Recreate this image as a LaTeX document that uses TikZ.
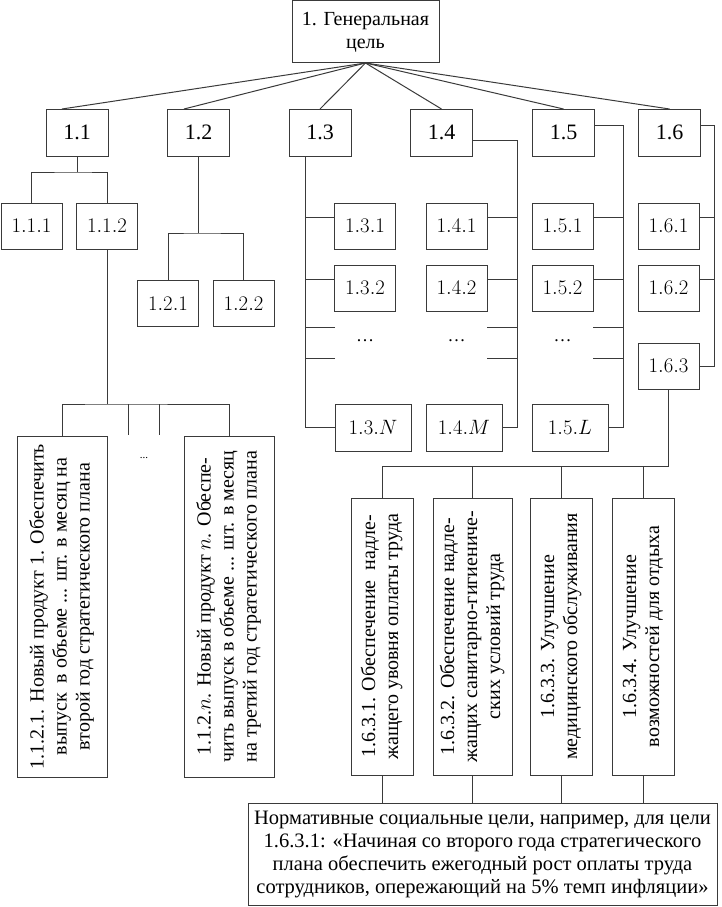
\documentclass[tikz,border=0pt]{standalone}
\usepackage{fontspec}
\setmainfont{Liberation Serif}
\usepackage{graphicx}
\usetikzlibrary{positioning,calc}
\definecolor{ink}{HTML}{3a3a3a}

\begin{document}
\begin{tikzpicture}[x=1pt,y=-1pt,
    edge/.style={draw=ink, line width=1pt},
    goal/.style={draw=ink, line width=1pt, rectangle, inner sep=0pt, outer sep=0pt,
        minimum width=61pt, minimum height=46pt, text=black,
        font=\fontsize{20}{23}\selectfont},
    tall/.style={goal, minimum width=#1, minimum height=277pt}]

    \useasboundingbox (0,0) rectangle (721,907);

    %--------------------------------------------
    % Nodes
    \node[goal, minimum width=147pt, minimum height=62pt, align=center] (g) at (365.5,32) {1. Генеральная\\цель};

    \node[goal, minimum width=62pt, minimum height=47pt, font=\fontsize{22}{24}\selectfont] (g11) at (77,132.5) {1.1};
    \node[goal, minimum width=62pt, minimum height=47pt, font=\fontsize{22}{24}\selectfont] (g12) at (198.5,132.5) {1.2};
    \node[goal, minimum width=62pt, minimum height=47pt, font=\fontsize{22}{24}\selectfont] (g13) at (320,132.5) {1.3};
    \node[goal, minimum width=62pt, minimum height=47pt, font=\fontsize{22}{24}\selectfont] (g14) at (441.5,132.5) {1.4};
    \node[goal, minimum width=62pt, minimum height=47pt, font=\fontsize{22}{24}\selectfont] (g15) at (563.5,132.5) {1.5};
    \node[goal, minimum width=62pt, minimum height=47pt, font=\fontsize{22}{24}\selectfont] (g16) at (669.5,132.5) {1.6};

    \node[goal] (g111) at (31.5,226) {$1.1.1$};
    \node[goal] (g112) at (107,226) {$1.1.2$};

    \node[goal] (g121) at (168,303.5) {$1.2.1$};
    \node[goal] (g122) at (243.5,303.5) {$1.2.2$};

    \node[goal] (g131) at (365,226) {$1.3.1$};
    \node[goal] (g132) at (365,288) {$1.3.2$};
    \node[goal, minimum width=76pt, minimum height=47pt] (g13N) at (373,427.5) {$1.3.N$};

    \node[goal] (g141) at (456.5,226) {$1.4.1$};
    \node[goal] (g142) at (456.5,288) {$1.4.2$};
    \node[goal, minimum width=76pt, minimum height=47pt] (g14M) at (464,427.5) {$1.4.M$};

    \node[goal] (g151) at (562.5,226) {$1.5.1$};
    \node[goal] (g152) at (562.5,288) {$1.5.2$};
    \node[goal, minimum width=76pt, minimum height=47pt] (g15L) at (570,427.5) {$1.5.L$};

    \node[goal] (g161) at (668.5,226) {$1.6.1$};
    \node[goal] (g162) at (668.5,288) {$1.6.2$};
    \node[goal] (g163) at (668.5,366) {$1.6.3$};

    % the dots between the sub-goals
    \node[font=\fontsize{18}{20}\selectfont] (dots13) at (365,341) {\ldots};
    \node[font=\fontsize{18}{20}\selectfont] (dots14) at (456.5,341) {\ldots};
    \node[font=\fontsize{18}{20}\selectfont] (dots15) at (562.5,341) {\ldots};
    \node[font=\fontsize{11}{12}\selectfont] (dots112) at (144,458) {...};

    %--------------------------------------------
    % Products of 1.1.2
    \node[goal, minimum width=90pt, minimum height=341pt] (g1121) at (62,606.5)
        {\rotatebox{90}{\begin{tabular}{@{}c@{}}
        1.1.2.1. Новый продукт 1. Обеспечить\\
        выпуск\ \ в объеме ... шт. в месяц на\\
        второй год стратегического плана
        \end{tabular}}};

    \node[goal, minimum width=90pt, minimum height=341pt] (g112n) at (229,606.5)
        {\rotatebox{90}{\begin{tabular}{@{}c@{}}
        1.1.2.$n$. Новый продукт $n$. Обеспе-\\
        чить выпуск в объеме ... шт. в месяц\\
        на третий год стратегического плана
        \end{tabular}}};

    %--------------------------------------------
    % Sub-goals of 1.6.3
    \node[tall=62pt] (g1631) at (382,636.5)
        {\rotatebox{90}{\begin{tabular}{@{}c@{}}
        1.6.3.1. Обеспечение\ \ надле-\\
        жащего увовня оплаты труда
        \end{tabular}}};

    \node[tall=79pt] (g1632) at (472.5,636.5)
        {\rotatebox{90}{\begin{tabular}{@{}c@{}}
        1.6.3.2. Обеспечение надле-\\
        жащих санитарно-гигиениче-\\
        ских условий труда
        \end{tabular}}};

    \node[tall=62pt] (g1633) at (561,636.5)
        {\rotatebox{90}{\begin{tabular}{@{}c@{}}
        1.6.3.3. Улучшение\\
        медицинского обслуживания
        \end{tabular}}};

    \node[tall=62pt] (g1634) at (643,636.5)
        {\rotatebox{90}{\begin{tabular}{@{}c@{}}
        1.6.3.4. Улучшение\\
        возможностей для отдыха
        \end{tabular}}};

    \node[goal, minimum width=469pt, minimum height=102pt, align=center,
        font=\fontsize{20.5}{23}\selectfont] (norm) at (482.5,854)
        {Нормативные социальные цели, например, для цели\\
        1.6.3.1: «Начиная со второго года стратегического\\
        плана обеспечить ежегодный рост оплаты труда\\
        сотрудников, опережающий на 5\% темп инфляции»};

    %--------------------------------------------
    % Junctions
    \coordinate (j11) at (77,172);
    \coordinate (j12) at (198.5,233);
    \coordinate (j112) at (107,404);
    \coordinate (s1) at (128,435);
    \coordinate (s2) at (159,435);
    \coordinate (sp13) at ([xshift=-15pt]g13.south);
    \coordinate (sp14) at (517,140);
    \coordinate (sp15) at (623,125);
    \coordinate (sp16) at (714,125);
    \coordinate (d13a) at (335,327);
    \coordinate (d13b) at (335,358);
    \coordinate (d14a) at (487,327);
    \coordinate (d14b) at (487,358);
    \coordinate (d15a) at (593,327);
    \coordinate (d15b) at (593,358);
    \coordinate (j163) at (668.5,466);

    %--------------------------------------------
    % Edges
    \draw[edge] (g.south) -- ([xshift=-15pt]g11.north);
    \draw[edge] (g.south) -- ([xshift=-14.5pt]g12.north);
    \draw[edge] (g.south) -- (g13.north);
    \draw[edge] (g.south) -- (g14.north);
    \draw[edge] (g.south) -- (g15.north);
    \draw[edge] (g.south) -- (g16.north);

    \draw[edge] (g11.south) -- (j11);
    \draw[edge] (g111.north) |- (j11) -| (g112.north);
    \draw[edge] (g12.south) -- (j12);
    \draw[edge] (g121.north) |- (j12) -| (g122.north);

    \draw[edge] (g112.south) -- (j112);
    \draw[edge] (g1121.north) |- (j112) -| (g112n.north);
    \draw[edge] (s1 |- j112) -- (s1);
    \draw[edge] (s2 |- j112) -- (s2);

    % column 1.3
    \draw[edge] (sp13) |- (g13N.west);
    \draw[edge] (g131.165) -- (g131.165 -| sp13);
    \draw[edge] (g132.165) -- (g132.165 -| sp13);
    \draw[edge] (d13a) -- (d13a -| sp13);
    \draw[edge] (d13b) -- (d13b -| sp13);

    % column 1.4
    \draw[edge] (g14.east |- sp14) -- (sp14) |- (g14M.east);
    \draw[edge] (g141.15) -- (g141.15 -| sp14);
    \draw[edge] (g142.15) -- (g142.15 -| sp14);
    \draw[edge] (d14a) -- (d14a -| sp14);
    \draw[edge] (d14b) -- (d14b -| sp14);

    % column 1.5
    \draw[edge] (g15.east |- sp15) -- (sp15) |- (g15L.east);
    \draw[edge] (g151.15) -- (g151.15 -| sp15);
    \draw[edge] (g152.15) -- (g152.15 -| sp15);
    \draw[edge] (d15a) -- (d15a -| sp15);
    \draw[edge] (d15b) -- (d15b -| sp15);

    % column 1.6
    \draw[edge] (g16.east |- sp16) -- (sp16) |- (g163.east);
    \draw[edge] (g161.15) -- (g161.15 -| sp16);
    \draw[edge] (g162.15) -- (g162.15 -| sp16);

    % 1.6.3 and the social goals
    \draw[edge] (g163.south) -- (j163) -| (g1631.north);
    \draw[edge] (g1632.north) -- (g1632.north |- j163);
    \draw[edge] (g1633.north) -- (g1633.north |- j163);
    \draw[edge] (g1634.north) -- (g1634.north |- j163);

    \draw[edge] (g1631.south) -- (g1631.south |- norm.north);
    \draw[edge] (g1632.south) -- (g1632.south |- norm.north);
    \draw[edge] (g1633.south) -- (g1633.south |- norm.north);
    \draw[edge] (g1634.south) -- (g1634.south |- norm.north);
\end{tikzpicture}
\end{document}
